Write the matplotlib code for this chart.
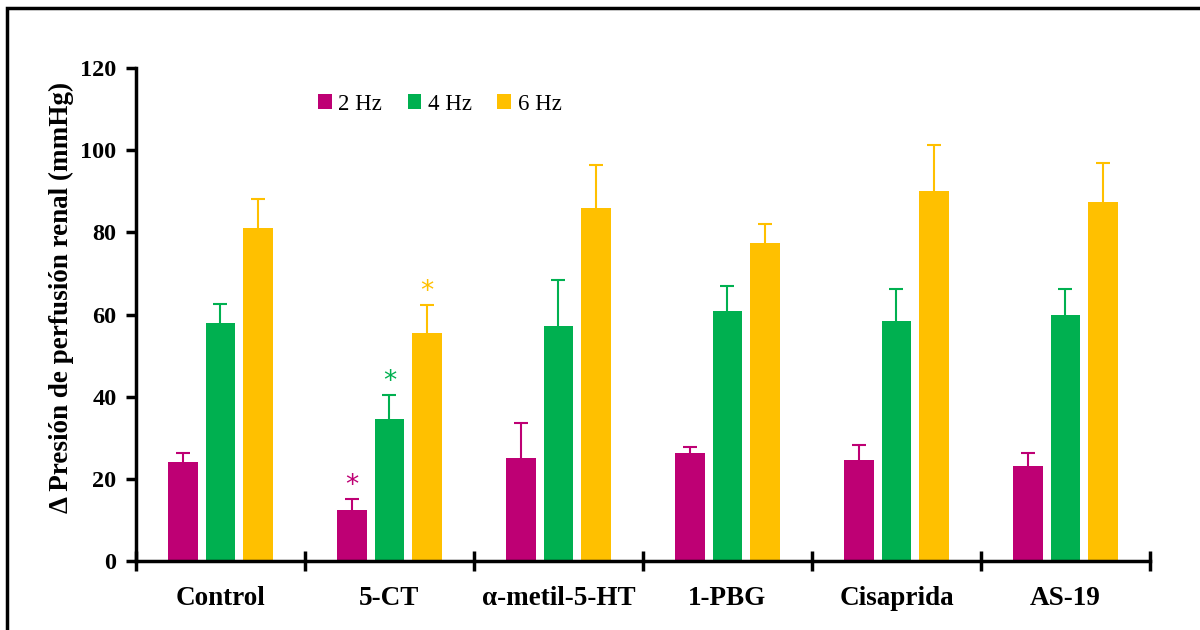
import matplotlib as mpl
import matplotlib.pyplot as plt
import numpy as np
from matplotlib.patches import Rectangle
mpl.use('Agg')

categories = ['Control', '5-CT', 'α-metil-5-HT', '1-PBG', 'Cisaprida', 'AS-19']
series = ['2 Hz', '4 Hz', '6 Hz']
colors = ['#BE0074', '#00B050', '#FFC000']

v2 = [24.0, 12.3, 25.0, 26.2, 24.7, 23.2]
v4 = [58.0, 34.5, 57.3, 60.8, 58.5, 59.8]
v6 = [81.0, 55.5, 86.0, 77.3, 90.0, 87.5]
e2 = [2.3, 2.7, 8.7, 1.5, 3.5, 3.1]
e4 = [4.5, 5.9, 11.2, 6.2, 7.8, 6.4]
e6 = [7.1, 6.8, 10.3, 4.7, 11.2, 9.3]
# significance marks: (category index, series index, y)
stars = [(1, 0, 19.5), (1, 1, 44.8), (1, 2, 66.7)]

plt.rcParams['font.family'] = ['Liberation Serif', 'DejaVu Serif']

fig = plt.figure(figsize=(12, 6.3), dpi=100)
ax = fig.add_axes([0.1133, 0.1095, 0.845, 0.7825])

x = np.arange(len(categories))
w = 0.175
step = 0.222
vals = [v2, v4, v6]
errs = [e2, e4, e6]
for i in range(3):
    xs = x + (i - 1) * step
    ax.bar(xs, vals[i], w, color=colors[i], label=series[i], zorder=2)
    _, caps, _ = ax.errorbar(xs, vals[i], yerr=[np.zeros(len(x)), errs[i]], fmt='none',
                             ecolor=colors[i], elinewidth=1.5, capsize=5, capthick=1.5,
                             zorder=1)
    caps[0].set_visible(False)

for ci, si, yy in stars:
    ax.text(x[ci] + (si - 1) * step, yy - 1.3, '*', color=colors[si], fontsize=19,
            ha='center', va='center', family='DejaVu Sans')

ax.set_xlim(-0.5, len(categories) - 0.5)
ax.set_ylim(0, 120)
ax.set_yticks(np.arange(0, 121, 20))
ax.set_xticks(x)
ax.set_xticklabels(categories, fontsize=19.5, fontweight='bold')
ax.set_xticks(np.arange(-0.5, len(categories)), minor=True)
ax.tick_params(axis='x', which='major', length=0, pad=18)
ax.tick_params(axis='x', which='minor', direction='inout', length=14, width=2.5)
ax.tick_params(axis='y', direction='out', length=7, width=2.5, labelsize=17.5, pad=7)
for lab in ax.get_yticklabels():
    lab.set_fontweight('bold')
ax.spines['top'].set_visible(False)
ax.spines['right'].set_visible(False)
ax.spines['left'].set_linewidth(2.5)
ax.spines['bottom'].set_linewidth(2.5)
ax.set_ylabel('Δ Presión de perfusión renal (mmHg)', fontsize=19.5, fontweight='bold')
ax.yaxis.set_label_coords(-0.061, 0.535)

ax.legend(loc='upper left', bbox_to_anchor=(0.159, 0.99), ncol=3, frameon=False,
          fontsize=16.5, handlelength=0.6, handleheight=0.6, handletextpad=0.3,
          columnspacing=1.1)

fig.patches.append(Rectangle((7 / 1200, -0.05), 1.1, (630 - 8) / 630 + 0.05,
                             transform=fig.transFigure, fill=False,
                             edgecolor='black', linewidth=2.5))

plt.savefig('out.png', dpi=100)
